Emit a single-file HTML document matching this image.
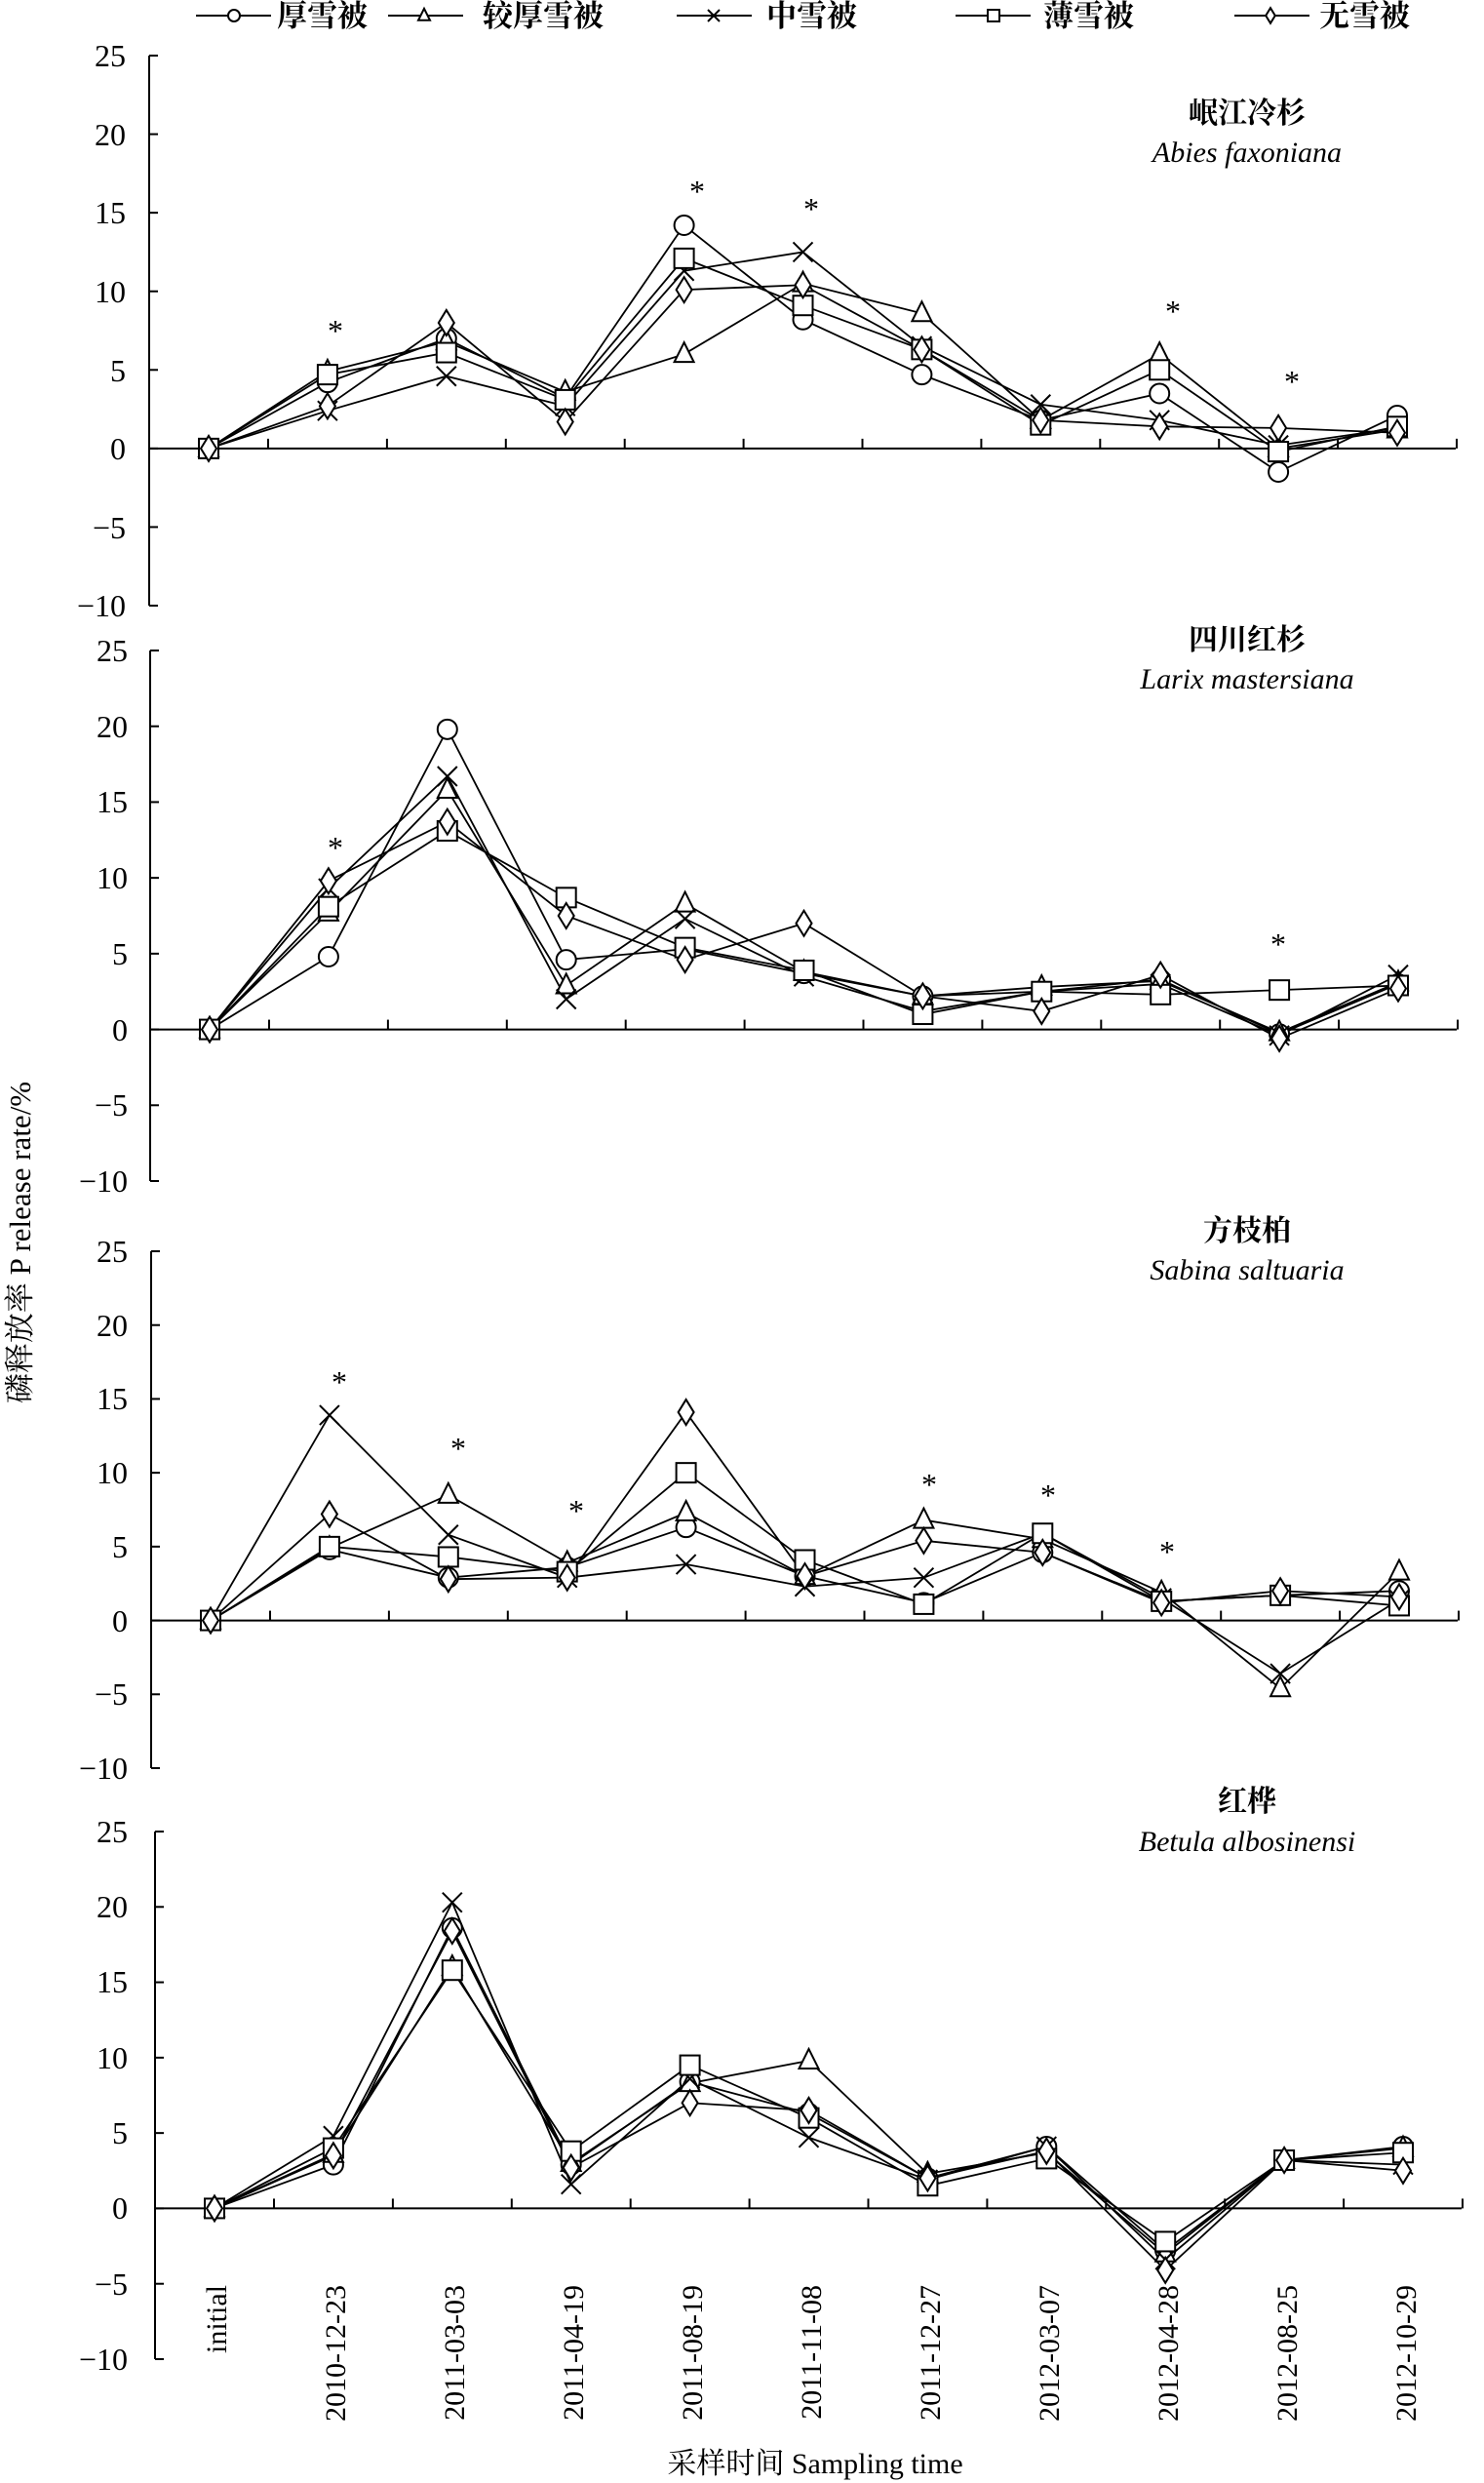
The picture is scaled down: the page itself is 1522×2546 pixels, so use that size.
<!DOCTYPE html>
<html><head><meta charset="utf-8"><style>
body{margin:0;background:#fff}
svg{display:block}
text{font-family:"Liberation Serif","Noto Serif CJK SC","Noto Sans CJK SC",serif;fill:#000}
.t{font-size:32px;text-anchor:end}
.d{font-size:30px;text-anchor:end}
.lg{font-size:31px;font-weight:bold}
.sp{font-size:30px;text-anchor:middle;font-weight:bold}
.it{font-size:30px;text-anchor:middle;font-style:italic}
.st{font-size:32px;text-anchor:middle}
</style></head><body>
<svg id="s" width="1522" height="2546" viewBox="0 0 1522 2546" xmlns="http://www.w3.org/2000/svg">
<g id="g" stroke="#000" stroke-width="2" fill="none"></g>
<text class="lg" x="284" y="27">厚雪被</text>
<text class="lg" x="495" y="27">较厚雪被</text>
<text class="lg" x="786" y="27">中雪被</text>
<text class="lg" x="1070" y="27">薄雪被</text>
<text class="lg" x="1353" y="27">无雪被</text>
<text class="t" x="129" y="68">25</text><text class="t" x="129" y="149">20</text><text class="t" x="129" y="229">15</text><text class="t" x="129" y="310">10</text><text class="t" x="129" y="391">5</text><text class="t" x="129" y="471">0</text><text class="t" x="129" y="552">−5</text><text class="t" x="129" y="632">−10</text>
<text class="t" x="131" y="678">25</text><text class="t" x="131" y="756">20</text><text class="t" x="131" y="833">15</text><text class="t" x="131" y="911">10</text><text class="t" x="131" y="989">5</text><text class="t" x="131" y="1067">0</text><text class="t" x="131" y="1144">−5</text><text class="t" x="131" y="1222">−10</text>
<text class="t" x="131" y="1294">25</text><text class="t" x="131" y="1370">20</text><text class="t" x="131" y="1445">15</text><text class="t" x="131" y="1521">10</text><text class="t" x="131" y="1597">5</text><text class="t" x="131" y="1673">0</text><text class="t" x="131" y="1748">−5</text><text class="t" x="131" y="1824">−10</text>
<text class="t" x="131" y="1889">25</text><text class="t" x="131" y="1966">20</text><text class="t" x="131" y="2043">15</text><text class="t" x="131" y="2121">10</text><text class="t" x="131" y="2198">5</text><text class="t" x="131" y="2275">0</text><text class="t" x="131" y="2353">−5</text><text class="t" x="131" y="2430">−10</text>
<text class="sp" x="1279" y="126">岷江冷杉</text><text class="it" x="1279" y="166">Abies faxoniana</text>
<text class="sp" x="1279" y="666">四川红杉</text><text class="it" x="1279" y="706">Larix mastersiana</text>
<text class="sp" x="1279" y="1272">方枝柏</text><text class="it" x="1279" y="1312">Sabina saltuaria</text>
<text class="sp" x="1279" y="1857">红桦</text><text class="it" x="1279" y="1898">Betula albosinensi</text>
<text x="31" y="1274" transform="rotate(-90 31 1274)" style="font-size:31px;text-anchor:middle">磷释放率 P release rate/%</text>
<text x="836" y="2536" style="font-size:30px;text-anchor:middle">采样时间 Sampling time</text>
<text class="d" transform="translate(232,2343) rotate(-90)">initial</text>
<text class="d" transform="translate(354,2343) rotate(-90)">2010-12-23</text>
<text class="d" transform="translate(476,2343) rotate(-90)">2011-03-03</text>
<text class="d" transform="translate(598,2343) rotate(-90)">2011-04-19</text>
<text class="d" transform="translate(720,2343) rotate(-90)">2011-08-19</text>
<text class="d" transform="translate(842,2343) rotate(-90)">2011-11-08</text>
<text class="d" transform="translate(964,2343) rotate(-90)">2011-12-27</text>
<text class="d" transform="translate(1086,2343) rotate(-90)">2012-03-07</text>
<text class="d" transform="translate(1208,2343) rotate(-90)">2012-04-28</text>
<text class="d" transform="translate(1330,2343) rotate(-90)">2012-08-25</text>
<text class="d" transform="translate(1452,2343) rotate(-90)">2012-10-29</text>
<text class="st" x="344" y="350">*</text><text class="st" x="715" y="207">*</text><text class="st" x="832" y="225">*</text><text class="st" x="1203" y="330">*</text><text class="st" x="1325" y="402">*</text>
<text class="st" x="344" y="880">*</text><text class="st" x="1311" y="979">*</text>
<text class="st" x="348" y="1428">*</text><text class="st" x="470" y="1496">*</text><text class="st" x="591" y="1560">*</text><text class="st" x="953" y="1533">*</text><text class="st" x="1075" y="1544">*</text><text class="st" x="1197" y="1602">*</text>
</svg>
<script>
var P=[
{T:57,B:621,dx:0,d:[
[0,4.2,7.0,3.2,14.2,8.2,4.7,1.8,3.5,-1.5,2.1],
[0,4.9,6.8,3.6,6.0,10.5,8.6,1.8,6.0,0.0,1.2],
[0,2.4,4.6,2.7,11.3,12.5,6.5,2.8,1.8,0.2,1.3],
[0,4.7,6.1,3.1,12.1,9.1,6.3,1.5,5.0,-0.2,1.4],
[0,2.7,8.0,1.7,10.1,10.4,6.3,1.8,1.4,1.3,1.0]]},
{T:667,B:1211,dx:1,d:[
[0,4.8,19.8,4.6,5.3,3.7,2.2,2.5,3.3,-0.3,3.0],
[0,7.7,15.8,2.9,8.3,3.8,2.2,2.8,3.2,-0.2,3.1],
[0,9.3,16.7,2.0,7.3,3.5,1.2,2.5,3.0,-0.4,3.6],
[0,8.1,13.1,8.7,5.4,3.9,1.0,2.5,2.3,2.6,2.9],
[0,9.8,13.7,7.5,4.6,7.0,2.2,1.2,3.6,-0.6,2.7]]},
{T:1283,B:1813,dx:2,d:[
[0,4.8,2.9,3.6,6.3,3.0,1.2,4.6,1.3,1.7,2.0],
[0,4.9,8.5,3.9,7.3,3.0,6.8,5.5,1.9,-4.6,3.3],
[0,13.9,5.8,2.9,3.8,2.3,2.9,5.9,1.5,-3.6,1.4],
[0,5.0,4.3,3.3,10.0,4.1,1.1,5.9,1.3,1.7,1.0],
[0,7.2,2.8,2.9,14.1,3.0,5.4,4.6,1.2,2.0,1.6]]},
{T:1878,B:2419,dx:6,d:[
[0,2.9,18.6,2.9,8.4,6.3,2.0,4.1,-2.8,3.2,4.1],
[0,3.6,16.0,3.0,8.3,9.8,2.3,3.7,-3.0,3.2,4.0],
[0,4.8,20.3,1.6,8.6,4.7,1.9,4.1,-3.4,3.2,2.9],
[0,4.0,15.8,3.8,9.5,6.0,1.5,3.3,-2.2,3.2,3.7],
[0,3.5,18.4,2.7,7.0,6.5,2.0,3.8,-4.1,3.2,2.5]]}];
var g=document.getElementById('g'),h='';
function mk(t,x,y,r){
 if(t==0)return '<circle cx="'+x+'" cy="'+y+'" r="'+r+'" fill="#fff"/>';
 if(t==1)return '<polygon points="'+x+','+(y-r*1.2)+' '+(x-r)+','+(y+r*0.8)+' '+(x+r)+','+(y+r*0.8)+'" fill="#fff"/>';
 if(t==2)return '<path d="M'+(x-r)+' '+(y-r)+'L'+(x+r)+' '+(y+r)+'M'+(x-r)+' '+(y+r)+'L'+(x+r)+' '+(y-r)+'"/>';
 if(t==3)return '<rect x="'+(x-r)+'" y="'+(y-r)+'" width="'+2*r+'" height="'+2*r+'" fill="#fff"/>';
 return '<polygon points="'+x+','+(y-r*1.3)+' '+(x-r*0.8)+','+y+' '+x+','+(y+r*1.3)+' '+(x+r*0.8)+','+y+'" fill="#fff"/>';
}
P.forEach(function(p){
 var ax=153+p.dx,k=(p.B-p.T)/35,Y=function(v){return p.T+(25-v)*k};
 var y0=Y(0);
 h+='<path d="M'+ax+' '+p.T+'V'+p.B+'"/>';
 for(var v=25;v>=-10;v-=5)h+='<path d="M'+ax+' '+Y(v)+'h9"/>';
 h+='<path d="M'+ax+' '+y0+'H'+(1493+p.dx)+'"/>';
 for(var i=0;i<=10;i++){var tx=275+p.dx+121.9*i;h+='<path d="M'+tx+' '+y0+'v-10"/>';}
 var X=function(i){return 214+p.dx+121.9*i};
 p.d.forEach(function(s){var pts=s.map(function(v,i){return X(i)+','+Y(v)}).join(' ');h+='<polyline points="'+pts+'" stroke-width="1.8"/>';});
 p.d.forEach(function(s,t){s.forEach(function(v,i){h+=mk(t,X(i),Y(v),10);});});
});
var L=[[201,278,240],[398,475,435],[694,771,732],[980,1057,1019],[1266,1343,1303]];
L.forEach(function(l,t){h+='<path d="M'+l[0]+' 16H'+l[1]+'"/>'+mk(t,l[2],16,6);});
g.innerHTML=h;
</script>
</body></html>
